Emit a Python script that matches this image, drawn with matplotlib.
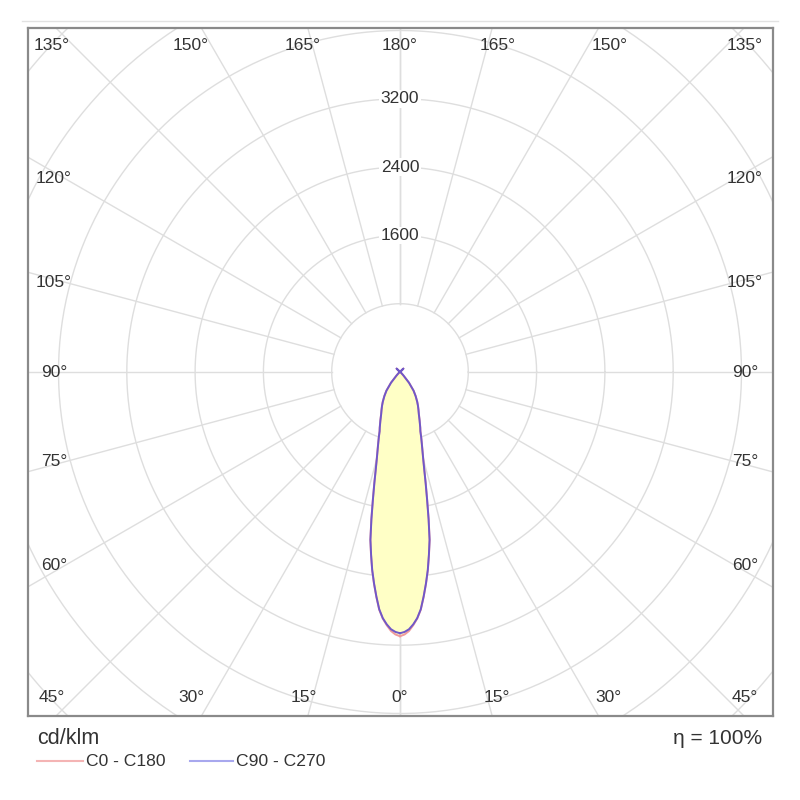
import numpy as np
import matplotlib.pyplot as plt

# luminous intensity distribution, cd/klm, gamma measured from nadir
gamma = [0, 1, 2, 3, 4, 5, 6, 7, 8, 9, 10, 11, 12, 13, 14, 15, 16, 17, 18, 19, 20,
         22, 24, 26, 28, 30, 33, 36, 40, 45, 50, 60, 70, 80, 90,
         105, 120, 135, 150, 165, 180]
c0_c180 = [3095, 3075, 3035, 2970, 2895, 2795, 2650, 2500, 2345, 2170, 2000,
           1760, 1530, 1340, 1175, 1050, 955, 875, 805, 735, 695,
           615, 545, 495, 450, 405, 338, 272, 165, 55, 25, 8, 3, 0, 0,
           0, 0, 55, 0, 0, 0]
c90_c270 = [3060, 3045, 3015, 2960, 2890, 2790, 2645, 2495, 2340, 2165, 1995,
            1755, 1525, 1335, 1172, 1048, 952, 872, 802, 733, 693,
            613, 543, 493, 448, 403, 336, 270, 163, 55, 25, 8, 3, 0, 0,
            0, 0, 55, 0, 0, 0]
ring_values = [800, 1600, 2400, 3200, 4000, 4800, 5600]
ring_labels = [1600, 2400, 3200]
spoke_angles = list(range(0, 181, 15))

plt.rcParams['font.family'] = ['Liberation Sans', 'DejaVu Sans']
txt = '#333333'
grid = '#dedede'

fig = plt.figure(figsize=(8, 8), dpi=100)
ax = fig.add_axes([28/800, 84/800, 745/800, 688/800])
px = 800 / 68.3  # cd per pixel
ax.set_xlim(-372*px, 373*px)
ax.set_ylim(-344*px, 344*px)
ax.set_xticks([])
ax.set_yticks([])
for s in ax.spines.values():
    s.set_color('#8a8a8a')
    s.set_linewidth(1.6)

# thin rule above the box
fig.add_artist(plt.Line2D([22/800, 778/800], [1-21/800, 1-21/800], color='#e2e2e2', lw=1))

t = np.linspace(0, 2*np.pi, 400)
for r in ring_values:
    ax.plot(r*np.cos(t), r*np.sin(t), color=grid, lw=1, zorder=1)
for a in spoke_angles:
    g = np.radians(a)
    for side in (1, -1):
        ax.plot([side*800*np.sin(g), side*8000*np.sin(g)],
                [-800*np.cos(g), -8000*np.cos(g)], color=grid, lw=1, zorder=1)

for r in ring_labels:
    ax.text(0, r, str(r), ha='center', va='center', fontsize=12.5, color=txt, zorder=3,
            bbox=dict(fc='white', ec='none', pad=1))


def outline(vals):
    g = np.radians(gamma)
    v = np.array(vals, dtype=float)
    x = np.concatenate([v*np.sin(g), (-v*np.sin(g))[::-1]])
    y = np.concatenate([-v*np.cos(g), (-v*np.cos(g))[::-1]])
    return x, y


x0, y0 = outline(c0_c180)
x9, y9 = outline(c90_c270)
ax.fill(x0, y0, color='#ffffc6', zorder=2, lw=0)
ax.plot(x0, y0, color='#f09a9a', lw=1.4, zorder=4)
ax.plot(x9, y9, color='#7058c8', lw=1.4, zorder=5)

# angle labels around the box (pixel positions)
def put(xp, yp, s):
    fig.text(xp/800, 1-yp/800, s, ha='center', va='center', fontsize=12.5, color=txt)

cx, cy = 400, 372
for a in spoke_angles:
    g = np.radians(a)
    lab = f'{a}°'
    if a <= 45 or a >= 135:
        yp = 697 if a <= 45 else 45
        dist = abs(yp - cy)
        off = 1.11*dist*np.tan(g if a <= 45 else np.pi - g)
        for side in (1, -1):
            xp = np.clip(cx + side*off, 52, 745)
            put(xp, yp, lab)
            if a in (0, 180):
                break
    else:
        dy = 0.97*345*np.tan(np.pi/2 - g)
        put(54, cy + dy, lab)
        put(745, cy + dy, lab)

fig.text(37/800, 1-738/800, 'cd/klm', ha='left', va='center', fontsize=15.5, color=txt)
fig.text(762/800, 1-738/800, 'η = 100%', ha='right', va='center', fontsize=15, color=txt)
fig.add_artist(plt.Line2D([37/800, 83/800], [1-761/800]*2, color='#f4b4b4', lw=1.5))
fig.text(86/800, 1-761/800, 'C0 - C180', ha='left', va='center', fontsize=12.6, color=txt)
fig.add_artist(plt.Line2D([190/800, 233/800], [1-761/800]*2, color='#a8a8ee', lw=1.5))
fig.text(236/800, 1-761/800, 'C90 - C270', ha='left', va='center', fontsize=12.6, color=txt)

fig.savefig('out.png', dpi=100)
